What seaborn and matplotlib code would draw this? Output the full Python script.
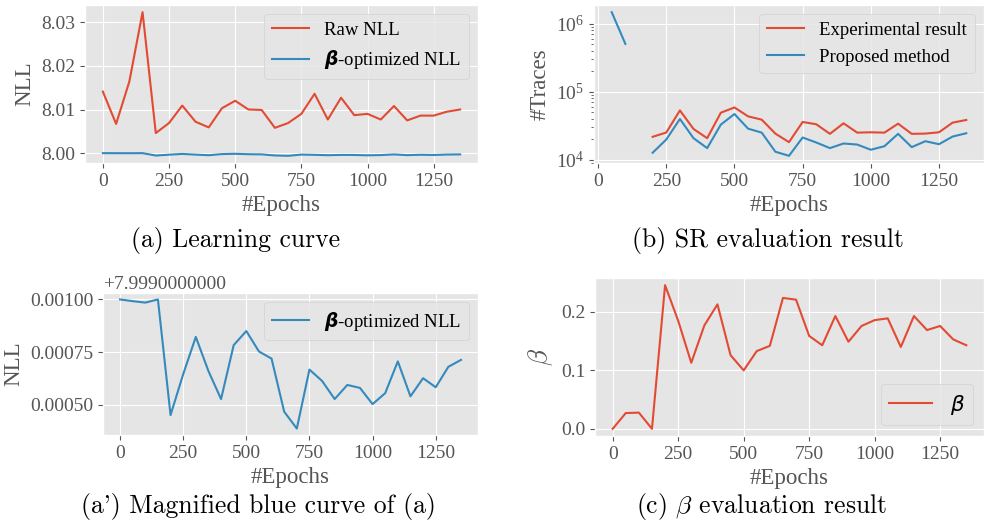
import numpy as np
import pandas as pd
import seaborn as sns
import matplotlib.pyplot as plt
from matplotlib.font_manager import FontProperties
from matplotlib.ticker import ScalarFormatter

# Data
epochs = list(range(0, 1400, 50))

raw_nll = [8.0141, 8.0067, 8.0164, 8.0323, 8.0046, 8.0069, 8.0109, 8.0072,
           8.0059, 8.0103, 8.0120, 8.0100, 8.0099, 8.0058, 8.0069, 8.0090,
           8.0136, 8.0077, 8.0127, 8.0087, 8.0090, 8.0077, 8.0108, 8.0075,
           8.0086, 8.0086, 8.0095, 8.0100]

# beta-optimized NLL minus 7.999
beta_nll_delta = [0.001000, 0.000992, 0.000985, 0.001000, 0.000451, 0.000645,
                  0.000822, 0.000660, 0.000527, 0.000783, 0.000850, 0.000753,
                  0.000719, 0.000467, 0.000387, 0.000667, 0.000613, 0.000527,
                  0.000594, 0.000580, 0.000503, 0.000555, 0.000706, 0.000540,
                  0.000626, 0.000583, 0.000680, 0.000713]
nll_base = 7.999

nan = np.nan
traces_experimental = [nan, nan, nan, nan, 21700, 25100, 53100, 28300, 20700,
                       49100, 58700, 43400, 38800, 24200, 18100, 35900, 33200,
                       24000, 34300, 25000, 25300, 25000, 33900, 24000, 24200,
                       25300, 35100, 38400]
traces_proposed = [nan, 1480000, 505000, nan, 12650, 19800, 39700, 20700, 14800,
                   32800, 47000, 28600, 25000, 13100, 11400, 21200, 17900,
                   14800, 17300, 16700, 14000, 15800, 24000, 15300, 18700,
                   16900, 21900, 24500]

beta_values = [0.0, 0.027, 0.0277, 0.0, 0.2458, 0.185, 0.113, 0.177, 0.213,
               0.126, 0.100, 0.133, 0.142, 0.224, 0.221, 0.159, 0.143, 0.193,
               0.149, 0.176, 0.186, 0.189, 0.140, 0.193, 0.169, 0.176, 0.153,
               0.143]

RED = '#E24A33'
BLUE = '#348ABD'

plt.style.use('ggplot')
plt.rcParams['font.family'] = ['Liberation Serif', 'DejaVu Serif']
plt.rcParams['mathtext.fontset'] = 'stix'

df = pd.DataFrame({
    'epoch': epochs,
    'raw': raw_nll,
    'beta_nll': [nll_base + d for d in beta_nll_delta],
    'exp': traces_experimental,
    'prop': traces_proposed,
    'beta': beta_values,
})
# seaborn joins over NaN, so split the proposed curve at its gaps
df['seg'] = df['prop'].isna().cumsum()


class LongOffset(ScalarFormatter):
    def get_offset(self):
        if self.offset:
            return '+%1.10f' % self.offset
        return ''


fig = plt.figure(figsize=(9.87, 5.32), dpi=100)
W, H = 987, 532


def box(l, t, r, b):
    return [l / W, 1 - b / H, (r - l) / W, (b - t) / H]


TICK = 14
LABEL = 16.5
LEG = 13.5
leg_prop = FontProperties(family=['Liberation Serif'], size=LEG, math_fontfamily='dejavusans')
beta_lbl = r'$\mathbfit{\beta}$-optimized NLL'
xt = [0, 250, 500, 750, 1000, 1250]

# (a) Learning curve
ax1 = fig.add_axes(box(85, 5, 478, 163))
sns.lineplot(data=df, x='epoch', y='raw', color=RED, label='Raw NLL', ax=ax1)
sns.lineplot(data=df, x='epoch', y='beta_nll', color=BLUE, label=beta_lbl, ax=ax1)
ax1.set_xlabel('#Epochs', fontsize=LABEL)
ax1.set_ylabel('NLL', fontsize=LABEL)
ax1.set_xticks(xt)
ax1.set_yticks([8.00, 8.01, 8.02, 8.03])
ax1.legend(loc='upper right', prop=leg_prop)

# (b) SR evaluation result
ax2 = fig.add_axes(box(594, 5, 984, 163))
sns.lineplot(data=df, x='epoch', y='exp', color=RED, label='Experimental result', ax=ax2)
first = True
for _, part in df.dropna(subset=['prop']).groupby('seg'):
    sns.lineplot(data=part, x='epoch', y='prop', color=BLUE,
                 label='Proposed method' if first else None, ax=ax2)
    first = False
ax2.set_yscale('log')
ax2.set_xlabel('#Epochs', fontsize=LABEL)
ax2.set_ylabel('#Traces', fontsize=LABEL)
ax2.set_xticks(xt)
handles, labels = ax2.get_legend_handles_labels()
ax2.legend(handles[:2], labels[:2], loc='upper right', prop=leg_prop)

# (a') Magnified blue curve
ax3 = fig.add_axes(box(103, 293, 478, 435))
sns.lineplot(data=df, x='epoch', y='beta_nll', color=BLUE, label=beta_lbl, ax=ax3)
ax3.yaxis.set_major_formatter(LongOffset())
ax3.set_xlabel('#Epochs', fontsize=LABEL)
ax3.set_ylabel('NLL', fontsize=LABEL)
ax3.set_xticks(xt)
ax3.legend(loc='upper right', prop=leg_prop)

# (c) beta evaluation result
ax4 = fig.add_axes(box(595, 278, 984, 436))
sns.lineplot(data=df, x='epoch', y='beta', color=RED, label=r'$\beta$', ax=ax4)
ax4.set_xlabel('#Epochs', fontsize=LABEL)
ax4.set_ylabel(r'$\beta$', fontsize=LABEL + 3, math_fontfamily='cm')
ax4.set_xticks(xt)
ax4.set_yticks([0.0, 0.1, 0.2])
ax4.legend(loc='lower right', prop=FontProperties(family=['Liberation Serif'], size=LEG + 2,
                                                   math_fontfamily='dejavusans'))

for ax in (ax1, ax2, ax3, ax4):
    ax.tick_params(labelsize=TICK)
    ax.yaxis.get_offset_text().set_fontsize(TICK)

# sub-captions
cap = dict(ha='center', va='center', fontsize=18.5, family=['cmr10', 'DejaVu Serif'], color='black')
fig.text(236 / W, 1 - 240 / H, '(a) Learning curve', **cap)
fig.text(768 / W, 1 - 240 / H, '(b) SR evaluation result', **cap)
fig.text(258 / W, 1 - 507 / H, "(a') Magnified blue curve of (a)", **cap)
fig.text(762 / W, 1 - 507 / H, r'(c) $\beta$ evaluation result', math_fontfamily='cm', **cap)

fig.savefig('out.png', dpi=100)
